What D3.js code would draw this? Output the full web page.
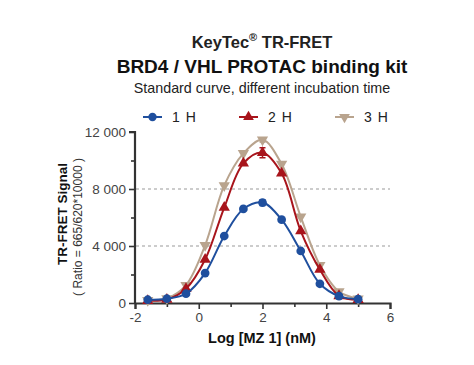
<!DOCTYPE html>
<html>
<head>
<meta charset="UTF-8">
<script src="https://cdn.jsdelivr.net/npm/d3@7"></script>
<style>
  body { margin: 0; background: #fff; }
  svg { font-family: "Liberation Sans", Arial, sans-serif; }
</style>
</head>
<body>
<svg width="474" height="365"></svg>
<script>
// log concentration of MZ 1 (nM)
var logConc = [-1.6, -1.0, -0.4, 0.2, 0.8, 1.4, 2.0, 2.6, 3.2, 3.8, 4.4, 5.0];
var signal1h = [230, 300, 650, 2100, 4700, 6600, 7050, 5850, 3650, 1350, 480, 270];
var signal2h = [160, 250, 1000, 3050, 6700, 9800, 10550, 9100, 5050, 2350, 500, 230];
var signal3h = [200, 320, 1250, 4050, 8250, 10500, 11450, 9750, 6050, 2650, 800, 300];
var err1h = [0, 0, 0, 0, 0, 0, 200, 0, 0, 0, 0, 0];
var err2h = [0, 0, 0, 0, 0, 0, 350, 0, 0, 0, 0, 0];
var err3h = [0, 0, 0, 0, 0, 0, 150, 0, 0, 0, 0, 0];
var seriesNames = ["1 H", "2 H", "3 H"];
var yTicks = [0, 4000, 8000, 12000];
var xTicks = [-2, 0, 2, 4, 6];

var series = [
  {name: seriesNames[0], values: signal1h, err: err1h, color: "#1f4f9e", symbol: "circle"},
  {name: seriesNames[1], values: signal2h, err: err2h, color: "#a8141b", symbol: "up"},
  {name: seriesNames[2], values: signal3h, err: err3h, color: "#b9a48e", symbol: "down"}
];

var svg = d3.select("svg");
var axisColor = "#333";

var x = d3.scaleLinear().domain([-2, 6]).range([135, 390]);
var y = d3.scaleLinear().domain([0, 12000]).range([303, 132]);

// titles
svg.append("text").attr("x", 262).attr("y", 48).attr("text-anchor", "middle")
  .attr("font-size", 16.5).attr("font-weight", "bold").attr("fill", "#222")
  .html('KeyTec<tspan font-size="11" dy="-7">®</tspan><tspan dy="7"> TR-FRET</tspan>');
svg.append("text").attr("x", 262).attr("y", 73).attr("text-anchor", "middle")
  .attr("font-size", 19).attr("font-weight", "bold").attr("fill", "#111")
  .text("BRD4 / VHL PROTAC binding kit");
svg.append("text").attr("x", 262).attr("y", 93).attr("text-anchor", "middle")
  .attr("font-size", 14.3).attr("fill", "#222")
  .text("Standard curve, different incubation time");

// gridlines
svg.append("g").selectAll("line").data([4000, 8000]).enter().append("line")
  .attr("x1", 136).attr("x2", 390)
  .attr("y1", function(d) { return y(d); }).attr("y2", function(d) { return y(d); })
  .attr("stroke", "#999").attr("stroke-dasharray", "3,3").attr("stroke-width", 1);

// y axis
var yAxis = svg.append("g").attr("transform", "translate(" + x(-2) + ",0)")
  .call(d3.axisLeft(y).tickValues(yTicks).tickSize(6).tickPadding(3)
    .tickFormat(function(d) { return d3.format(",")(d).replace(",", " "); }));
svg.append("g").attr("transform", "translate(" + x(-2) + ",0)")
  .call(d3.axisLeft(y).tickValues([2000, 6000, 10000]).tickSize(4).tickFormat(""))
  .select(".domain").remove();

// x axis
var xAxis = svg.append("g").attr("transform", "translate(0," + y(0) + ")")
  .call(d3.axisBottom(x).tickValues(xTicks).tickSize(6).tickPadding(3)
    .tickFormat(function(d) { return String(d); }));
svg.append("g").attr("transform", "translate(0," + y(0) + ")")
  .call(d3.axisBottom(x).tickValues([-1, 1, 3, 5]).tickSize(4).tickFormat(""))
  .select(".domain").remove();

svg.selectAll(".domain").attr("stroke", axisColor).attr("stroke-width", 2.2);
svg.selectAll(".tick line").attr("stroke", axisColor).attr("stroke-width", 1.6);
svg.selectAll(".tick text").attr("font-size", 13.5).attr("fill", "#444")
  .attr("font-family", "Liberation Sans, Arial, sans-serif");
yAxis.select(".domain").attr("d", "M-6," + y(12000) + "H0V" + (y(0) + 1));

// axis titles
svg.append("text").attr("transform", "translate(67,214) rotate(-90)")
  .attr("text-anchor", "middle").attr("font-size", 13.5).attr("font-weight", "bold")
  .attr("fill", "#111").text("TR-FRET Signal");
svg.append("text").attr("transform", "translate(82,227) rotate(-90)")
  .attr("text-anchor", "middle").attr("font-size", 12).attr("fill", "#333")
  .text("( Ratio = 665/620*10000 )");
svg.append("text").attr("x", 262).attr("y", 343).attr("text-anchor", "middle")
  .attr("font-size", 14.5).attr("font-weight", "bold").attr("fill", "#111")
  .text("Log [MZ 1] (nM)");

function symbolPath(type, size) {
  if (type === "circle") return d3.symbol().type(d3.symbolCircle).size(size)();
  return d3.symbol().type(d3.symbolTriangle).size(size)();
}

var line = d3.line()
  .x(function(d) { return x(d[0]); })
  .y(function(d) { return y(d[1]); })
  .curve(d3.curveCatmullRom.alpha(0.5));

// draw in order 3H, 2H, 1H so blue sits on top
series.slice().reverse().forEach(function(s) {
  var pts = logConc.map(function(v, i) { return [v, s.values[i], s.err[i]]; });
  var g = svg.append("g");
  g.append("path").datum(pts).attr("d", line)
    .attr("fill", "none").attr("stroke", s.color).attr("stroke-width", 2);
  g.selectAll(".err").data(pts.filter(function(d) { return d[2] > 0; })).enter()
    .append("path")
    .attr("d", function(d) {
      var cx = x(d[0]), t = y(d[1] + d[2]), b = y(d[1] - d[2]);
      return "M" + (cx - 3) + "," + t + "H" + (cx + 3) + "M" + cx + "," + t + "V" + b +
        "M" + (cx - 3) + "," + b + "H" + (cx + 3);
    })
    .attr("stroke", s.color).attr("stroke-width", 1.5).attr("fill", "none");
  g.selectAll(".pt").data(pts).enter().append("path")
    .attr("d", symbolPath(s.symbol, s.symbol === "circle" ? 60 : 55))
    .attr("transform", function(d) {
      return "translate(" + x(d[0]) + "," + y(d[1]) + ")" + (s.symbol === "down" ? " rotate(180)" : "");
    })
    .attr("fill", s.color);
});

// legend
var legendX = [143, 239, 335];
series.forEach(function(s, i) {
  var lg = svg.append("g").attr("transform", "translate(" + legendX[i] + ",117)");
  lg.append("line").attr("x1", 0).attr("x2", 19).attr("stroke", s.color).attr("stroke-width", 2);
  lg.append("path").attr("d", symbolPath(s.symbol, s.symbol === "circle" ? 55 : 50))
    .attr("transform", "translate(9.5,0)" + (s.symbol === "down" ? " rotate(180)" : ""))
    .attr("fill", s.color);
  lg.append("text").attr("x", 29).attr("y", 5).attr("font-size", 14).attr("fill", "#222")
    .attr("letter-spacing", 1).text(s.name);
});
</script>
</body>
</html>
